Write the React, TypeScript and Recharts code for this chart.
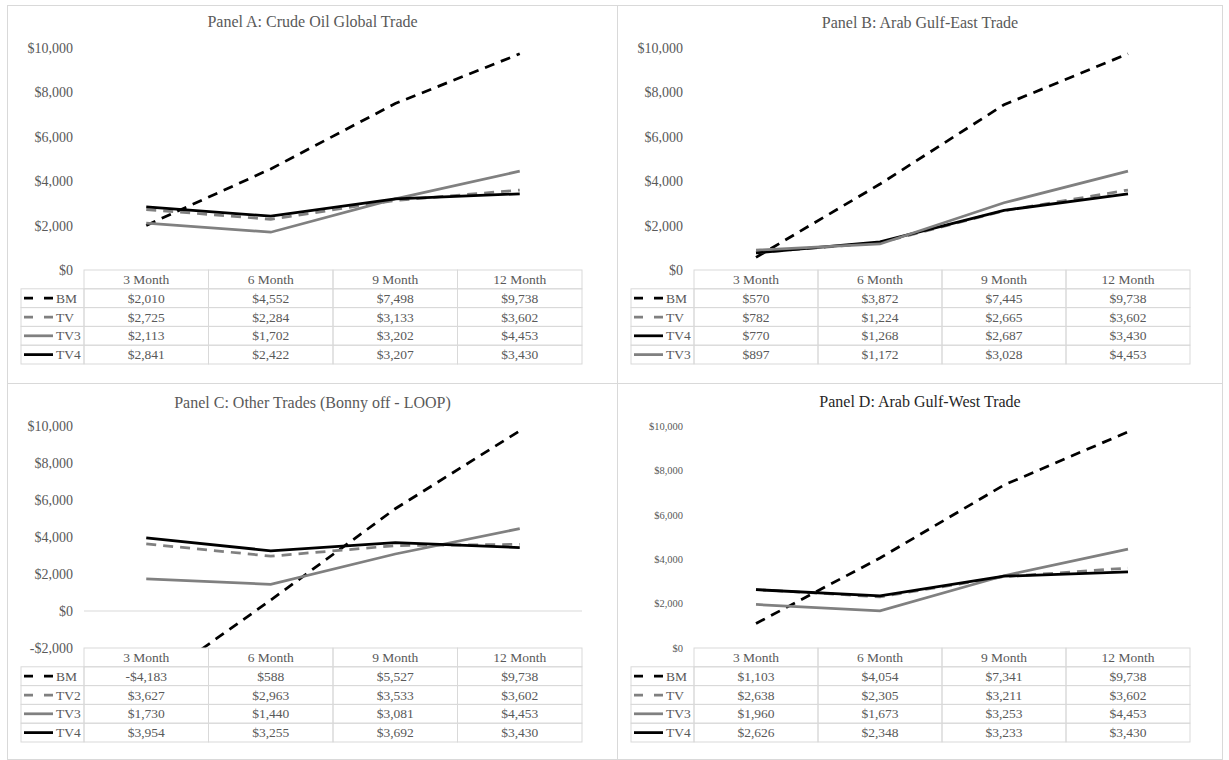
import React from 'react';
import { LineChart, Line, XAxis, YAxis, ReferenceLine } from 'recharts';

const months = ['3 Month', '6 Month', '9 Month', '12 Month'];
const ticksPositive = [0, 2000, 4000, 6000, 8000, 10000];
const ticksPanelC = [-2000, 0, 2000, 4000, 6000, 8000, 10000];

// Panel A: Crude Oil Global Trade
const aBM = [2010, 4552, 7498, 9738];
const aTV = [2725, 2284, 3133, 3602];
const aTV3 = [2113, 1702, 3202, 4453];
const aTV4 = [2841, 2422, 3207, 3430];

// Panel B: Arab Gulf-East Trade
const bBM = [570, 3872, 7445, 9738];
const bTV = [782, 1224, 2665, 3602];
const bTV4 = [770, 1268, 2687, 3430];
const bTV3 = [897, 1172, 3028, 4453];

// Panel C: Other Trades (Bonny off - LOOP)
const cBM = [-4183, 588, 5527, 9738];
const cTV2 = [3627, 2963, 3533, 3602];
const cTV3 = [1730, 1440, 3081, 4453];
const cTV4 = [3954, 3255, 3692, 3430];

// Panel D: Arab Gulf-West Trade
const dBM = [1103, 4054, 7341, 9738];
const dTV = [2638, 2305, 3211, 3602];
const dTV3 = [1960, 1673, 3253, 4453];
const dTV4 = [2626, 2348, 3233, 3430];

const FONT = "'Liberation Serif', 'Times New Roman', serif";
const TEXT = '#595959';
const GRID = '#d9d9d9';
const BLACK = '#000000';
const GRAY = '#808080';

const lineStyles: Record<string, { stroke: string; dash?: string }> = {
  BM: { stroke: BLACK, dash: '10 7' },
  TV: { stroke: GRAY, dash: '10 7' },
  TV2: { stroke: GRAY, dash: '10 7' },
  TV3: { stroke: GRAY },
  TV4: { stroke: BLACK },
};

const PLOT_LEFT = 76;
const PLOT_TOP = 42;
const TABLE_H = 94;
const ROW_H = TABLE_H / 5;
const LEGEND_W = 63;

const fmt = (v: number) => (v < 0 ? '-$' : '$') + Math.abs(v).toLocaleString('en-US');

type Series = { name: string; values: number[] };

interface PanelProps {
  title: string;
  series: Series[];
  ticks: number[];
  left: number;
  top: number;
  width: number;
  height: number;
  rightGap: number;
  titleY: number;
  tickFont?: number;
  titleColor?: string;
  zeroLine?: boolean;
}

function Panel({ title, series, ticks, left, top, width, height, rightGap, titleY, tickFont = 14, titleColor = TEXT, zeroLine }: PanelProps) {
  const innerW = width - 2;
  const innerH = height - 2;
  const plotW = innerW - PLOT_LEFT - rightGap;
  const colW = plotW / months.length;

  const data = months.map((m, i) => {
    const row: Record<string, string | number> = { month: m };
    series.forEach((s) => {
      row[s.name] = s.values[i];
    });
    return row;
  });

  const renderColumn = (props: any) => {
    const { x, y, payload } = props;
    const idx = months.indexOf(payload.value);
    const x0 = x - colW / 2;
    const textProps = { fontFamily: FONT, fontSize: 13.5, fill: TEXT, dominantBaseline: 'central' as const };
    return (
      <g>
        {idx === 0 &&
          series.map((s, r) => {
            const st = lineStyles[s.name];
            const ly = y + (r + 1) * ROW_H;
            const lx = x0 - LEGEND_W;
            return (
              <g key={s.name}>
                <rect x={lx} y={ly} width={LEGEND_W} height={ROW_H} fill="none" stroke={GRID} />
                <line
                  x1={lx + 3}
                  x2={lx + 32}
                  y1={ly + ROW_H / 2}
                  y2={ly + ROW_H / 2}
                  stroke={st.stroke}
                  strokeWidth={2.75}
                  strokeDasharray={st.dash ? '9 11' : undefined}
                />
                <text x={lx + 35} y={ly + ROW_H / 2} {...textProps}>
                  {s.name}
                </text>
              </g>
            );
          })}
        <rect x={x0} y={y} width={colW} height={ROW_H} fill="none" stroke={GRID} />
        <text x={x} y={y + ROW_H / 2} textAnchor="middle" {...textProps}>
          {payload.value}
        </text>
        {series.map((s, r) => (
          <g key={s.name}>
            <rect x={x0} y={y + (r + 1) * ROW_H} width={colW} height={ROW_H} fill="none" stroke={GRID} />
            <text x={x} y={y + (r + 1.5) * ROW_H} textAnchor="middle" {...textProps}>
              {fmt(data[idx][s.name] as number)}
            </text>
          </g>
        ))}
      </g>
    );
  };

  return (
    <div
      style={{
        position: 'absolute',
        left,
        top,
        width,
        height,
        boxSizing: 'border-box',
        border: `1px solid ${GRID}`,
        background: '#fff',
      }}
    >
      <div
        style={{
          position: 'absolute',
          left: 0,
          width: innerW,
          top: titleY - 9,
          height: 18,
          lineHeight: '18px',
          textAlign: 'center',
          fontFamily: FONT,
          fontSize: 16,
          color: titleColor,
          whiteSpace: 'nowrap',
        }}
      >
        {title}
      </div>
      <div style={{ position: 'absolute', left: 0, top: 0 }}>
        <LineChart
          width={innerW}
          height={innerH}
          data={data}
          margin={{ top: PLOT_TOP, right: rightGap, left: 0, bottom: innerH - (264 + TABLE_H) }}
        >
          <XAxis
            dataKey="month"
            height={TABLE_H}
            axisLine={false}
            tickLine={false}
            tickSize={0}
            tickMargin={0}
            interval={0}
            padding={{ left: colW / 2, right: colW / 2 }}
            tick={renderColumn}
          />
          <YAxis
            width={PLOT_LEFT}
            domain={[ticks[0], ticks[ticks.length - 1]]}
            ticks={ticks}
            allowDataOverflow
            axisLine={false}
            tickLine={false}
            tickMargin={5}
            tickFormatter={fmt}
            tick={{ fill: TEXT, fontSize: tickFont, fontFamily: FONT }}
          />
          {zeroLine && <ReferenceLine y={0} stroke={GRID} strokeWidth={1} />}
          {series.map((s) => (
            <Line
              key={s.name}
              dataKey={s.name}
              type="linear"
              stroke={lineStyles[s.name].stroke}
              strokeDasharray={lineStyles[s.name].dash}
              strokeWidth={2.75}
              dot={false}
              activeDot={false}
              isAnimationActive={false}
            />
          ))}
        </LineChart>
      </div>
    </div>
  );
}

export default function App() {
  return (
    <div style={{ position: 'absolute', left: 0, top: 0, width: 1229, height: 760, overflow: 'hidden', background: '#fff' }}>
      <Panel
        title="Panel A: Crude Oil Global Trade"
        series={[
          { name: 'BM', values: aBM },
          { name: 'TV', values: aTV },
          { name: 'TV3', values: aTV3 },
          { name: 'TV4', values: aTV4 },
        ]}
        ticks={ticksPositive}
        left={7}
        top={5}
        width={611}
        height={379}
        rightGap={35}
        titleY={16}
      />
      <Panel
        title="Panel B: Arab Gulf-East Trade"
        series={[
          { name: 'BM', values: bBM },
          { name: 'TV', values: bTV },
          { name: 'TV4', values: bTV4 },
          { name: 'TV3', values: bTV3 },
        ]}
        ticks={ticksPositive}
        left={617}
        top={5}
        width={606}
        height={379}
        rightGap={32}
        titleY={17}
      />
      <Panel
        title="Panel C: Other Trades (Bonny off - LOOP)"
        series={[
          { name: 'BM', values: cBM },
          { name: 'TV2', values: cTV2 },
          { name: 'TV3', values: cTV3 },
          { name: 'TV4', values: cTV4 },
        ]}
        ticks={ticksPanelC}
        left={7}
        top={383}
        width={611}
        height={377}
        rightGap={35}
        titleY={19}
        zeroLine
      />
      <Panel
        title="Panel D: Arab Gulf-West Trade"
        series={[
          { name: 'BM', values: dBM },
          { name: 'TV', values: dTV },
          { name: 'TV3', values: dTV3 },
          { name: 'TV4', values: dTV4 },
        ]}
        ticks={ticksPositive}
        left={617}
        top={383}
        width={606}
        height={377}
        rightGap={32}
        titleY={18}
        tickFont={10.5}
        titleColor="#262626"
      />
    </div>
  );
}
